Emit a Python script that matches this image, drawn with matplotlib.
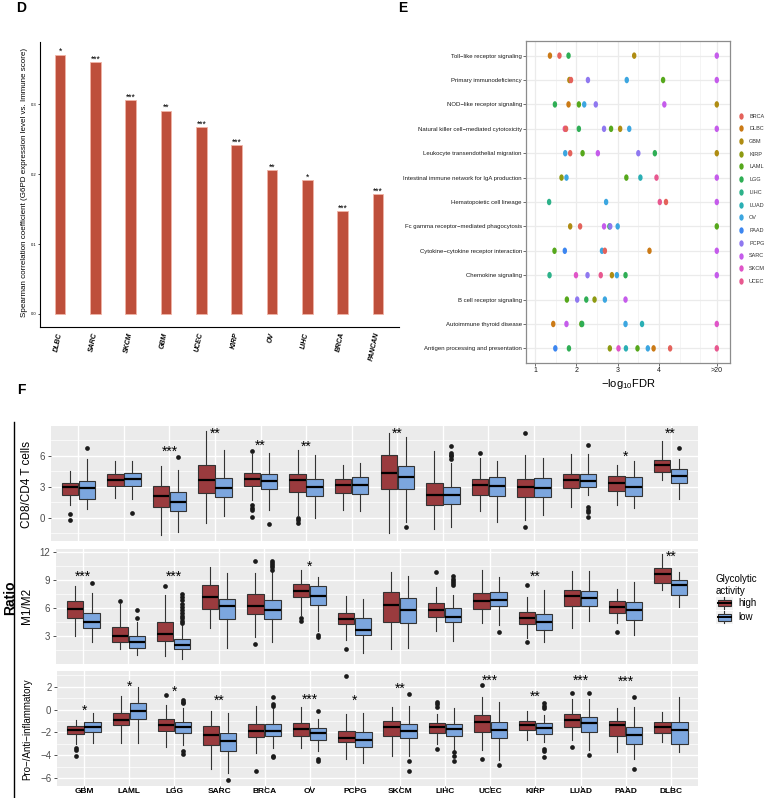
import numpy as np
import matplotlib
matplotlib.use('Agg')
import matplotlib.pyplot as plt
from matplotlib.path import Path
from matplotlib.lines import Line2D
from matplotlib.patches import Rectangle, Patch
from matplotlib.legend_handler import HandlerBase

plt.rcParams['font.family'] = ['Liberation Sans', 'DejaVu Sans']
plt.rcParams['mathtext.fontset'] = 'custom'
plt.rcParams['mathtext.rm'] = 'Liberation Sans'
plt.rcParams['mathtext.it'] = 'Liberation Sans:italic'
plt.rcParams['mathtext.bf'] = 'Liberation Sans:bold'

# ---------------- Panel D data ----------------
d_cancers = ['DLBC', 'SARC', 'SKCM', 'GBM', 'UCEC', 'KIRP', 'OV', 'LIHC', 'BRCA', 'PANCAN']
d_rho = [0.371, 0.360, 0.306, 0.291, 0.267, 0.241, 0.206, 0.191, 0.147, 0.171]
d_sig = ['*', '***', '***', '**', '***', '***', '**', '*', '***', '***']

# ---------------- Panel E data ----------------
e_pathways = ['Toll−like receptor signaling', 'Primary immunodeficiency',
              'NOD−like receptor signaling', 'Natural killer cell−mediated cytotoxicity',
              'Leukocyte transendothelial migration', 'Intestinal immune network for IgA production',
              'Hematopoietic cell lineage', 'Fc gamma receptor−mediated phagocytosis',
              'Cytokine−cytokine receptor interaction', 'Chemokine signaling',
              'B cell receptor signaling', 'Autoimmune thyroid disease',
              'Antigen processing and presentation']
e_groups = ['BRCA', 'DLBC', 'GBM', 'KIRP', 'LAML', 'LGG', 'LIHC', 'LUAD', 'OV', 'PAAD',
            'PCPG', 'SARC', 'SKCM', 'UCEC']
e_row = [0, 0, 0, 0, 0,
         1, 1, 1, 1, 1, 1,
         2, 2, 2, 2, 2, 2, 2,
         3, 3, 3, 3, 3, 3, 3, 3,
         4, 4, 4, 4, 4, 4, 4,
         5, 5, 5, 5, 5, 5,
         6, 6, 6, 6, 6,
         7, 7, 7, 7, 7, 7, 7,
         8, 8, 8, 8, 8, 8,
         9, 9, 9, 9, 9, 9, 9, 9,
         10, 10, 10, 10, 10, 10,
         11, 11, 11, 11, 11, 11, 11,
         12, 12, 12, 12, 12, 12, 12, 12, 12, 12]
e_group = ['DLBC', 'BRCA', 'LGG', 'GBM', 'SARC',
           'GBM', 'BRCA', 'PCPG', 'OV', 'LAML', 'SARC',
           'LGG', 'DLBC', 'LAML', 'OV', 'PCPG', 'SARC', 'GBM',
           'UCEC', 'BRCA', 'LGG', 'PCPG', 'LAML', 'GBM', 'OV', 'SARC',
           'OV', 'BRCA', 'LAML', 'SARC', 'PCPG', 'LGG', 'GBM',
           'KIRP', 'OV', 'LAML', 'LUAD', 'UCEC', 'SARC',
           'LIHC', 'OV', 'UCEC', 'BRCA', 'SARC',
           'GBM', 'BRCA', 'SARC', 'LGG', 'PCPG', 'OV', 'LAML',
           'LAML', 'PAAD', 'OV', 'BRCA', 'DLBC', 'SARC',
           'LIHC', 'SKCM', 'PCPG', 'UCEC', 'GBM', 'OV', 'LGG', 'SARC',
           'LAML', 'PCPG', 'LGG', 'KIRP', 'OV', 'SARC',
           'DLBC', 'SARC', 'LAML', 'LGG', 'OV', 'LUAD', 'SKCM',
           'PAAD', 'LGG', 'KIRP', 'SKCM', 'LUAD', 'LAML', 'OV', 'DLBC', 'BRCA', 'UCEC']
e_fdr = [1.36, 1.59, 1.81, 3.40, 20,
         1.83, 1.87, 2.28, 3.22, 4.10, 20,
         1.48, 1.81, 2.06, 2.19, 2.47, 4.13, 20,
         1.72, 1.75, 2.06, 2.67, 2.84, 3.06, 3.28, 20,
         1.73, 1.85, 2.15, 2.52, 3.50, 3.90, 20,
         1.64, 1.76, 3.21, 3.55, 3.94, 20,
         1.34, 2.72, 4.02, 4.17, 20,
         1.85, 2.09, 2.67, 2.80, 2.82, 3.00, 20,
         1.47, 1.72, 2.62, 2.69, 3.77, 20,
         1.35, 1.99, 2.27, 2.59, 2.86, 2.98, 3.19, 20,
         1.77, 2.02, 2.24, 2.44, 2.69, 3.19,
         1.44, 1.76, 2.12, 2.14, 3.19, 3.59, 20,
         1.49, 1.82, 2.81, 3.02, 3.20, 3.48, 3.73, 3.87, 4.27, 20]
e_colors = ['#E4625B', '#CB7A16', '#AF8C12', '#8E9A12', '#56A81C', '#2FAE55', '#2DB28A',
            '#2AAFB4', '#3CA6E0', '#3C86F0', '#8F78F0', '#C55CEB', '#E055C8', '#E8588F']

# ---------------- Panel F data ----------------
f_cancers = ['GBM', 'LAML', 'LGG', 'SARC', 'BRCA', 'OV', 'PCPG', 'SKCM', 'LIHC', 'UCEC',
             'KIRP', 'LUAD', 'PAAD', 'DLBC']
# (whisker low, q1, median, q3, whisker high)
cd8_high = [(1.23, 2.26, 2.97, 3.42, 4.52), (1.94, 3.06, 3.65, 4.26, 5.48),
            (-1.68, 1.10, 2.10, 3.13, 5.00), (-0.48, 2.45, 3.71, 5.16, 8.39),
            (1.71, 3.10, 3.81, 4.39, 6.23), (0.26, 2.55, 3.65, 4.26, 6.61),
            (0.74, 2.39, 3.16, 3.74, 5.16), (-1.42, 2.77, 4.39, 6.06, 8.23),
            (-1.03, 1.29, 2.23, 3.35, 6.45), (0.68, 2.19, 3.19, 3.81, 5.81),
            (-0.16, 2.03, 3.00, 3.74, 6.13), (1.03, 2.87, 3.65, 4.26, 6.23),
            (1.29, 2.58, 3.39, 4.06, 5.16), (3.71, 4.42, 5.10, 5.65, 7.42)]
cd8_high_out = [[0.42, -0.23], [], [], [], [6.45, 1.23, 1.0, 0.81, 0.1], [0.03, -0.23, -0.45],
                [], [], [], [6.32], [8.19, -0.84], [], [], []]
cd8_low = [(0.90, 1.81, 2.94, 3.55, 5.74), (1.87, 3.06, 3.81, 4.32, 5.55),
           (-1.35, 0.71, 1.55, 2.48, 4.61), (0.19, 2.00, 2.94, 3.87, 6.61),
           (0.74, 2.77, 3.58, 4.29, 6.32), (0.00, 2.10, 3.00, 3.74, 6.06),
           (0.68, 2.35, 3.19, 3.97, 5.35), (-0.39, 2.77, 3.94, 5.06, 7.84),
           (-0.84, 1.32, 2.23, 3.00, 5.29), (-0.39, 2.13, 3.13, 3.94, 5.55),
           (0.26, 2.06, 2.90, 3.87, 5.84), (2.19, 2.97, 3.61, 4.26, 6.16),
           (0.94, 2.10, 3.00, 3.97, 5.55), (1.87, 3.42, 4.06, 4.74, 5.74)]
cd8_low_out = [[6.81], [0.45], [5.87], [], [-0.55], [], [], [-0.90],
               [7.0, 6.32, 6.13, 5.97, 5.74], [], [], [7.10, 1.06, 0.81, 0.55, 0.06], [], [6.81]]
cd8_sig = ['', '', '***', '**', '**', '**', '', '**', '', '', '', '', '*', '**']
cd8_sig_y = [np.nan, np.nan, 6.8, 8.55, 7.35, 7.3, np.nan, 8.55, np.nan, np.nan, np.nan,
             np.nan, 6.3, 8.5]

m1_high = [(3.07, 5.01, 5.98, 6.81, 8.39), (1.60, 2.42, 3.04, 4.04, 6.45),
           (0.92, 2.46, 3.29, 4.51, 7.38), (3.90, 5.95, 7.17, 8.53, 10.44),
           (2.96, 5.37, 6.30, 7.49, 9.79), (5.30, 7.24, 7.85, 8.60, 10.08),
           (2.60, 4.33, 4.83, 5.55, 7.28), (1.67, 4.58, 6.38, 7.74, 9.88),
           (3.57, 5.12, 5.84, 6.56, 8.28), (4.47, 5.95, 6.74, 7.63, 10.08),
           (2.78, 4.33, 5.01, 5.59, 7.17), (3.93, 6.20, 7.28, 8.00, 10.04),
           (4.40, 5.48, 6.09, 6.74, 8.07), (8.00, 8.71, 9.72, 10.37, 11.85)]
m1_high_out = [[], [6.77], [8.35], [], [2.14, 11.1], [4.94, 4.65], [1.60], [], [9.90], [],
               [8.53, 2.35], [], [3.50], []]
m1_low = [(2.39, 3.86, 4.51, 5.55, 7.60), (0.99, 1.78, 2.39, 3.00, 4.58),
          (0.56, 1.60, 2.10, 2.68, 4.30), (1.71, 4.80, 6.23, 7.02, 9.79),
          (2.42, 4.83, 5.87, 6.84, 9.90), (3.57, 6.38, 7.28, 8.35, 9.36),
          (1.17, 3.18, 3.68, 5.01, 7.02), (1.78, 4.40, 5.77, 7.10, 9.43),
          (2.50, 4.51, 5.05, 6.02, 7.45), (4.22, 6.27, 6.92, 7.74, 9.36),
          (2.35, 3.68, 4.58, 5.37, 8.00), (4.69, 6.27, 7.10, 7.89, 10.04),
          (3.14, 4.76, 5.80, 6.66, 8.82), (6.13, 7.45, 8.46, 9.07, 9.90)]
m1_low_out = [[8.75], [5.77, 5.01],
              [7.56, 7.2, 6.84, 6.48, 6.13, 5.84, 5.48, 5.19, 4.94, 4.69, 4.47],
              [], [11.12, 10.87, 10.65, 10.44, 10.15], [3.14, 2.96], [], [],
              [9.43, 9.18, 8.96, 8.71, 8.46], [3.50], [], [], [], []]
m1_sig = ['***', '', '***', '', '', '*', '', '', '', '', '**', '', '', '**']
m1_sig_y = [9.79, np.nan, 9.79, np.nan, np.nan, 10.87, np.nan, np.nan, np.nan, np.nan,
            9.79, np.nan, np.nan, 11.95]

pro_high = [(-2.98, -2.14, -1.76, -1.47, -0.95), (-2.92, -1.39, -0.90, -0.32, 1.18),
            (-3.29, -1.85, -1.33, -0.84, 0.40), (-5.23, -3.09, -2.25, -1.47, -0.09),
            (-3.79, -2.40, -1.91, -1.27, 0.32), (-3.38, -2.28, -1.71, -1.18, 0.20),
            (-4.28, -2.86, -2.49, -1.85, -0.40), (-4.08, -2.28, -1.56, -1.04, 0.26),
            (-3.00, -2.05, -1.56, -1.18, -0.38), (-3.50, -1.94, -1.13, -0.46, 1.07),
            (-2.69, -1.82, -1.33, -0.98, -0.17), (-2.63, -1.53, -0.90, -0.40, 0.90),
            (-3.73, -2.28, -1.36, -0.98, 0.17), (-2.86, -2.05, -1.53, -1.10, -0.23)]
pro_high_out = [[-3.38, -3.55, -4.08], [], [1.24], [], [-5.38], [], [2.92], [],
                [0.69, 0.46, 0.26, -3.44], [2.14, -4.31], [], [1.47, -3.27], [], []]
pro_low = [(-2.92, -1.94, -1.56, -1.13, -0.32), (-2.92, -0.84, -0.14, 0.61, 1.94),
           (-3.06, -2.05, -1.56, -1.10, 0.12), (-5.52, -3.64, -2.77, -2.08, -0.26),
           (-3.35, -2.34, -1.85, -1.30, 0.12), (-3.58, -2.63, -2.05, -1.65, -0.84),
           (-4.65, -3.27, -2.66, -1.99, -0.32), (-4.08, -2.51, -1.88, -1.27, 0.35),
           (-3.64, -2.28, -1.68, -1.27, 0.12), (-4.36, -2.49, -1.76, -1.07, 0.69),
           (-2.83, -2.11, -1.65, -1.21, -0.46), (-3.50, -1.94, -1.21, -0.61, 0.90),
           (-4.31, -3.00, -2.25, -1.53, 0.26), (-3.73, -3.00, -1.76, -1.10, 1.07)]
pro_low_out = [[], [], [0.84, 0.69, 0.55, -3.61, -3.84], [-6.16],
               [1.07, 0.46, 0.35, -4.02, -4.16], [-0.12, -4.28, -4.45], [],
               [1.33, -4.51, -5.38], [-3.73, -4.08, -4.51], [-4.88],
               [0.55, 0.35, 0.12, -3.44, -3.64, -4.13], [1.47, -3.99], [1.13, -5.23], []]
pro_sig = ['*', '*', '*', '**', '', '***', '*', '**', '', '***', '**', '***', '***', '']
pro_sig_y = [0.26, 2.28, 1.91, 1.13, np.nan, 1.18, 1.13, 2.14, np.nan, 2.86, 1.42, 2.80,
             2.72, np.nan]

# ---------------- figure ----------------
W, H = 765, 798
fig = plt.figure(figsize=(W / 100, H / 100), dpi=100)


def add_ax(l, t, r, b):
    return fig.add_axes([l / W, 1 - b / H, (r - l) / W, (b - t) / H])


def fig_text(x, y, s, **kw):
    return fig.text(x / W, 1 - y / H, s, **kw)


# ---------------- Panel D ----------------
axD = add_ax(40, 42, 399, 327)
xd = np.arange(len(d_cancers))
axD.bar(xd, d_rho, width=0.3, color='#BE4F3B', edgecolor='#F0B4A6', linewidth=0.6)
for xi, v, s in zip(xd, d_rho, d_sig):
    axD.annotate(s, (xi, v), xytext=(0, 0.3), textcoords='offset points', ha='center',
                 va='baseline', fontsize=6.2)
axD.set_xlim(-0.57, 9.6)
axD.set_ylim(-0.0186, 0.389)
axD.spines['top'].set_visible(False)
axD.spines['right'].set_visible(False)
axD.spines['left'].set_linewidth(0.8)
axD.spines['bottom'].set_linewidth(0.8)
axD.set_yticks([0.0, 0.1, 0.2, 0.3])
axD.set_yticklabels(['0.0', '0.1', '0.2', '0.3'], fontsize=3)
axD.tick_params(axis='y', length=1.5, width=0.5, pad=1)
axD.set_xticks(xd)
axD.set_xticklabels(d_cancers, rotation=78, fontsize=5, fontstyle='italic',
                    fontweight='bold', ha='right', va='center', rotation_mode='anchor')
axD.tick_params(axis='x', length=0, pad=4)
fig_text(25, 182, 'Spearman correlation coefficient (G6PD expression level vs. Immune score)',
         rotation=90, ha='center', va='center', fontsize=5.8)

# ---------------- Panel E ----------------
axE = add_ax(526, 41, 730, 363)


def e_fwd(v):
    v = np.asarray(v, dtype=float)
    return np.where(v <= 5, v, 5 + (v - 5) * 0.4 / 15)


def e_inv(u):
    u = np.asarray(u, dtype=float)
    return np.where(u <= 5, u, 5 + (u - 5) * 15 / 0.4)


axE.set_xscale('function', functions=(e_fwd, e_inv))
circ = Path.unit_circle()
ell = Path(circ.vertices * np.array([0.68, 1.0]), circ.codes)
cmap = dict(zip(e_groups, e_colors))
axE.scatter(e_fdr, e_row, marker=ell, s=22, c=[cmap[g] for g in e_group], linewidths=0,
            zorder=3)
axE.set_xlim(0.78, 32)
axE.set_ylim(12.6, -0.6)
axE.set_yticks(range(len(e_pathways)))
axE.set_yticklabels(e_pathways, fontsize=4.3, color='#1A1A1A')
axE.set_xticks([1, 2, 3, 4, 20])
axE.set_xticklabels(['1', '2', '3', '4', '>20'], fontsize=5, color='#1A1A1A')
axE.set_xticks([1.5, 2.5, 3.5, 4.5, 5], minor=True)
axE.tick_params(axis='both', which='major', length=2, width=0.5, color='#333333', pad=1)
axE.tick_params(axis='x', which='minor', length=0)
axE.grid(True, which='major', color='#EBEBEB', linewidth=0.9)
axE.grid(True, which='minor', axis='x', color='#F2F2F2', linewidth=0.6)
axE.set_axisbelow(True)
for sp in axE.spines.values():
    sp.set_color('#8C8C8C')
    sp.set_linewidth(0.9)
axE.set_xlabel('−log$_{10}$FDR', fontsize=8, labelpad=2)

e_handles = [Line2D([], [], marker=ell, linestyle='none', markersize=4.6,
                    markerfacecolor=c, markeredgewidth=0) for c in e_colors]
fig.legend(e_handles, e_groups, loc='upper left', bbox_to_anchor=(739 / W, 1 - 113.5 / H),
           frameon=False, fontsize=4, handlelength=0.8, handletextpad=1.0,
           labelspacing=1.39, borderpad=0, borderaxespad=0, labelcolor='#333333')

# ---------------- Panel F ----------------
red = '#9A3B3E'
blue = '#7CA6DE'


def box_panel(ax, high, high_out, low, low_out, sig, sig_y, ylim, yt, ymin):
    for data, outs, off, col in [(high, high_out, -0.1875, red), (low, low_out, 0.1875, blue)]:
        stats = [dict(whislo=t[0], q1=t[1], med=t[2], q3=t[3], whishi=t[4], fliers=o)
                 for t, o in zip(data, outs)]
        pos = np.arange(1, len(data) + 1) + off
        ax.bxp(stats, positions=pos, widths=0.36, patch_artist=True, showcaps=False,
               boxprops=dict(facecolor=col, edgecolor='#333333', linewidth=0.8),
               medianprops=dict(color='black', linewidth=1.6),
               whiskerprops=dict(color='#333333', linewidth=0.8),
               flierprops=dict(marker='o', markerfacecolor='#1A1A1A', markeredgecolor='none',
                               markersize=3.4),
               manage_ticks=False, zorder=3)
    for i, (s, y) in enumerate(zip(sig, sig_y)):
        if s:
            ax.annotate(s, (i + 1, y), xytext=(0, -5.6), textcoords='offset points',
                        ha='center', va='baseline', fontsize=10, zorder=4)
    ax.set_facecolor('#EBEBEB')
    ax.set_xlim(0.4, len(high) + 0.6)
    ax.set_ylim(*ylim)
    ax.set_xticks(np.arange(1, len(high) + 1))
    ax.set_yticks(yt)
    ax.set_yticks(ymin, minor=True)
    ax.grid(True, which='major', color='white', linewidth=1.0)
    ax.grid(True, which='minor', axis='y', color='white', linewidth=0.5)
    ax.set_axisbelow(True)
    for sp in ax.spines.values():
        sp.set_visible(False)
    ax.tick_params(axis='y', which='major', length=2.5, width=0.6, color='#333333',
                   labelsize=7, labelcolor='#4D4D4D', pad=1.5)
    ax.tick_params(axis='y', which='minor', length=0)


ax1 = add_ax(51, 426, 698, 541)
box_panel(ax1, cd8_high, cd8_high_out, cd8_low, cd8_low_out, cd8_sig, cd8_sig_y,
          (-2.23, 8.9), [0, 3, 6], [-1.5, 1.5, 4.5, 7.5])
ax1.tick_params(axis='x', length=0, labelbottom=False)

ax2 = add_ax(56, 549, 698, 664)
box_panel(ax2, m1_high, m1_high_out, m1_low, m1_low_out, m1_sig, m1_sig_y,
          (0.02, 12.37), [3, 6, 9, 12], [1.5, 4.5, 7.5, 10.5])
ax2.tick_params(axis='x', length=0, labelbottom=False)

ax3 = add_ax(57, 671, 698, 786)
box_panel(ax3, pro_high, pro_high_out, pro_low, pro_low_out, pro_sig, pro_sig_y,
          (-6.67, 3.36), [-6, -4, -2, 0, 2], [-5, -3, -1, 1, 3])
ax3.set_xticklabels(f_cancers, fontsize=6, fontweight='bold', color='black')
ax3.tick_params(axis='x', length=1.2, width=0.6, color='#333333', pad=0.3)

fig_text(27, 484, 'CD8/CD4 T cells', rotation=90, ha='center', va='center', fontsize=8.5)
fig_text(27, 606, 'M1/M2', rotation=90, ha='center', va='center', fontsize=8.5)
fig_text(27.5, 729, 'Pro−/Anti−inflammatory', rotation=90, ha='center', va='center',
         fontsize=7)
fig_text(10, 598, 'Ratio', rotation=90, ha='center', va='center', fontsize=10,
         fontweight='bold')
fig.add_artist(Line2D([14 / W, 14 / W], [1 - 422 / H, 0], color='black', linewidth=1.0,
                      transform=fig.transFigure))


class BoxKey(HandlerBase):
    def create_artists(self, legend, orig_handle, xdescent, ydescent, width, height,
                       fontsize, trans):
        x0, y0 = -xdescent, -ydescent
        fc = orig_handle.get_facecolor()
        bg = Rectangle((x0, y0), width, height, facecolor='#F2F2F2', edgecolor='none',
                       transform=trans)
        w1 = Line2D([x0 + width / 2] * 2, [y0 + height * 0.75, y0 + height * 0.97],
                    color='#333333', lw=0.8, transform=trans)
        w2 = Line2D([x0 + width / 2] * 2, [y0 + height * 0.03, y0 + height * 0.25],
                    color='#333333', lw=0.8, transform=trans)
        bx = Rectangle((x0 + width * 0.1, y0 + height * 0.25), width * 0.8, height * 0.5,
                       facecolor=fc, edgecolor='#333333', lw=0.8, transform=trans)
        md = Line2D([x0 + width * 0.1, x0 + width * 0.9], [y0 + height * 0.5] * 2,
                    color='black', lw=1.4, transform=trans)
        return [bg, w1, w2, bx, md]


f_handles = [Patch(facecolor=red), Patch(facecolor=blue)]
fig.legend(f_handles, ['high', 'low'], handler_map={Patch: BoxKey()},
           title='Glycolytic\nactivity', loc='upper left',
           bbox_to_anchor=(716 / W, 1 - 574 / H), frameon=False, fontsize=7,
           title_fontsize=7, handlelength=1.7, handleheight=1.7, handletextpad=0.6,
           labelspacing=0.1, borderpad=0, borderaxespad=0, alignment='left')

# ---------------- panel letters ----------------
fig_text(16, 0.5, 'D', fontsize=10, fontweight='bold', va='top', ha='left')
fig_text(398, 0.5, 'E', fontsize=10, fontweight='bold', va='top', ha='left')
fig_text(17, 383, 'F', fontsize=10, fontweight='bold', va='top', ha='left')

fig.savefig('out.png', dpi=100)
